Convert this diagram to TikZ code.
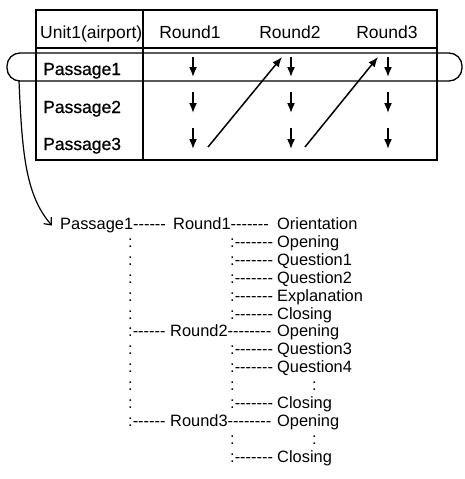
\documentclass[tikz,border=0pt]{standalone}
\usepackage{fontspec}
\setmainfont{Liberation Sans}[Ligatures=TeXOff]
\newfontfamily\rowfont{Liberation Sans}[Ligatures=TeXOff, FakeBold=0.8]
\usetikzlibrary{arrows.meta}
\begin{document}
\begin{tikzpicture}[x=1pt,y=-1pt,
  tbl/.style={font=\fontsize{17.5}{20}\selectfont, inner sep=0pt},
  rowlabel/.style={font=\rowfont\fontsize{17.5}{20}\selectfont, inner sep=0pt, anchor=base west},
  tree/.style={font=\fontsize{16.4}{19}\selectfont, inner sep=0pt, anchor=base west},
  rule/.style={line width=1.3pt},
  down/.style={-{Latex[length=10pt,width=8pt]}, line width=1.6pt},
  link/.style={-{Latex[length=10pt,width=8pt]}, line width=1.5pt},
  pointer/.style={-{Straight Barb[length=6pt,width=10pt]}, line width=1.2pt}]
\useasboundingbox (0,0) rectangle (464,479);

% ---- table frame ----
\draw[rule] (36,10) rectangle (437,160);
\draw[rule] (36,48) -- (437,48);
\draw[rule] (143,10) -- (143,160);
% highlighted Passage1 row
\draw[rule, rounded corners=13pt] (7,53) rectangle (462,81);

% ---- table labels ----
\node[tbl, anchor=base west] (unit) at (40,38) {Unit1(airport)};
\node[tbl, anchor=base] (h1) at (190,38) {Round1};
\node[tbl, anchor=base] (h2) at (290,38) {Round2};
\node[tbl, anchor=base] (h3) at (387,38) {Round3};
\node[rowlabel] (pa1) at (43,75) {Passage1};
\node[rowlabel] (pa2) at (43,113) {Passage2};
\node[rowlabel] (pa3) at (43,150) {Passage3};

% ---- reading order arrows ----
\foreach \c/\x in {1/193,2/291,3/388}{
  \foreach \r/\ya/\yb in {1/57/77,2/92/113,3/128/149}{
    \coordinate (s-\c-\r) at (\x,\ya);
    \coordinate (e-\c-\r) at (\x,\yb);
    \draw[down] (s-\c-\r) -- (e-\c-\r);
  }
}
\coordinate (j1a) at (208,147);
\coordinate (j1b) at (282,57);
\coordinate (j2a) at (305,147);
\coordinate (j2b) at (378,57);
\draw[link] (j1a) -- (j1b);
\draw[link] (j2a) -- (j2b);

% ---- structure of Passage1 ----
\node[tree] (p1) at (60,229.5) {Passage1------};
\node[tree] (r1) at (173,229.5) {Round1-------};
\node[tree] (t0) at (277,229.5) {Orientation};

\node[tree] (a1) at (128,247.4) {:};
\node[tree] (b1) at (230,247.4) {:-------};
\node[tree] (t1) at (277,247.4) {Opening};

\node[tree] (a2) at (128,265.3) {:};
\node[tree] (b2) at (230,265.3) {:-------};
\node[tree] (t2) at (277,265.3) {Question1};

\node[tree] (a3) at (128,283.2) {:};
\node[tree] (b3) at (230,283.2) {:-------};
\node[tree] (t3) at (277,283.2) {Question2};

\node[tree] (a4) at (128,301.1) {:};
\node[tree] (b4) at (230,301.1) {:-------};
\node[tree] (t4) at (277,301.1) {Explanation};

\node[tree] (a5) at (128,319.0) {:};
\node[tree] (b5) at (230,319.0) {:-------};
\node[tree] (t5) at (277,319.0) {Closing};

\node[tree] (a6) at (128,336.9) {:------};
\node[tree] (r2) at (170,336.9) {Round2--------};
\node[tree] (t6) at (277,336.9) {Opening};

\node[tree] (a7) at (128,354.8) {:};
\node[tree] (b7) at (230,354.8) {:-------};
\node[tree] (t7) at (277,354.8) {Question3};

\node[tree] (a8) at (128,372.7) {:};
\node[tree] (b8) at (230,372.7) {:-------};
\node[tree] (t8) at (277,372.7) {Question4};

\node[tree] (a9) at (128,390.6) {:};
\node[tree] (b9) at (230,390.6) {:};
\node[tree] (t9) at (312,390.6) {:};

\node[tree] (a10) at (128,408.5) {:};
\node[tree] (b10) at (230,408.5) {:-------};
\node[tree] (t10) at (277,408.5) {Closing};

\node[tree] (a11) at (128,426.4) {:------};
\node[tree] (r3) at (170,426.4) {Round3--------};
\node[tree] (t11) at (277,426.4) {Opening};

\node[tree] (b12) at (230,444.3) {:};
\node[tree] (t12) at (312,444.3) {:};

\node[tree] (b13) at (230,462.2) {:-------};
\node[tree] (t13) at (277,462.2) {Closing};

% ---- pointer from the highlighted row to its breakdown ----
\coordinate (bandfoot) at (19,81);
\draw[pointer] (bandfoot) .. controls (22,150) and (25,195) .. ([xshift=-8pt]p1.west);
\end{tikzpicture}
\end{document}
